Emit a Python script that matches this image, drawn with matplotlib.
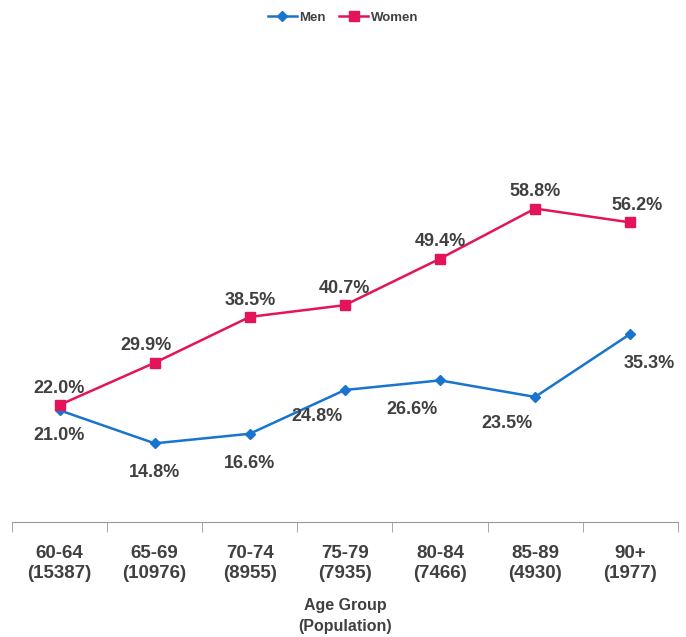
import matplotlib.pyplot as plt
import numpy as np

# data
age_groups = ["60-64", "65-69", "70-74", "75-79", "80-84", "85-89", "90+"]
population = [15387, 10976, 8955, 7935, 7466, 4930, 1977]
men = [21.0, 14.8, 16.6, 24.8, 26.6, 23.5, 35.3]
women = [22.0, 29.9, 38.5, 40.7, 49.4, 58.8, 56.2]

# label offsets in points (dx, dy)
men_off = [(0, -12), (0, -15), (0, -15), (-20, -13), (-20, -15), (-20, -13), (14, -15)]
women_off = [(0, 6), (-6, 6), (0, 6), (0, 6), (0, 6), (0, 6), (5, 6)]

plt.rcParams['font.family'] = ['Liberation Sans Narrow', 'Liberation Sans', 'DejaVu Sans']
text_col = "#404040"
blue = "#1874CD"
pink = "#E3145A"

fig = plt.figure(figsize=(6.86, 6.37), dpi=100)
ax = fig.add_axes([0.0175, 0.180, 0.9705, 0.754])

x = np.arange(len(age_groups))
ax.plot(x, men, color=blue, lw=1.8, marker="D", ms=5, label="Men")
ax.plot(x, women, color=pink, lw=1.8, marker="s", ms=7, label="Women")

for i in range(len(x)):
    ax.annotate(f"{men[i]:.1f}%", (x[i], men[i]), xytext=men_off[i], textcoords="offset points",
                ha="center", va="top", fontsize=13, fontweight="bold", color=text_col)
    ax.annotate(f"{women[i]:.1f}%", (x[i], women[i]), xytext=women_off[i], textcoords="offset points",
                ha="center", va="bottom", fontsize=13, fontweight="bold", color=text_col)

ax.set_xlim(-0.5, len(x) - 0.5)
ax.set_ylim(0, 90)
ax.set_yticks([])
for s in ["top", "right", "left"]:
    ax.spines[s].set_visible(False)
ax.spines["bottom"].set_color("#999999")

ax.set_xticks(x)
ax.set_xticklabels([f"{a}\n({p})" for a, p in zip(age_groups, population)],
                   fontsize=13.5, fontweight="bold", color=text_col, linespacing=1.3)
ax.tick_params(axis="x", which="major", length=0, pad=16)
ax.set_xticks(np.arange(-0.5, len(x)), minor=True)
ax.tick_params(axis="x", which="minor", length=7, color="#999999")
ax.set_xlabel("Age Group\n(Population)", fontsize=11.5, fontweight="bold", color=text_col,
              labelpad=11, linespacing=1.55)

fig.legend(loc="upper center", ncol=2, frameon=False, bbox_to_anchor=(0.5, 1.0),
           prop={"weight": "bold", "size": 9.5}, handlelength=2.2, columnspacing=1.0, handletextpad=0.2)
for t in fig.legends[0].get_texts():
    t.set_color(text_col)

fig.savefig("out.png", dpi=100)
